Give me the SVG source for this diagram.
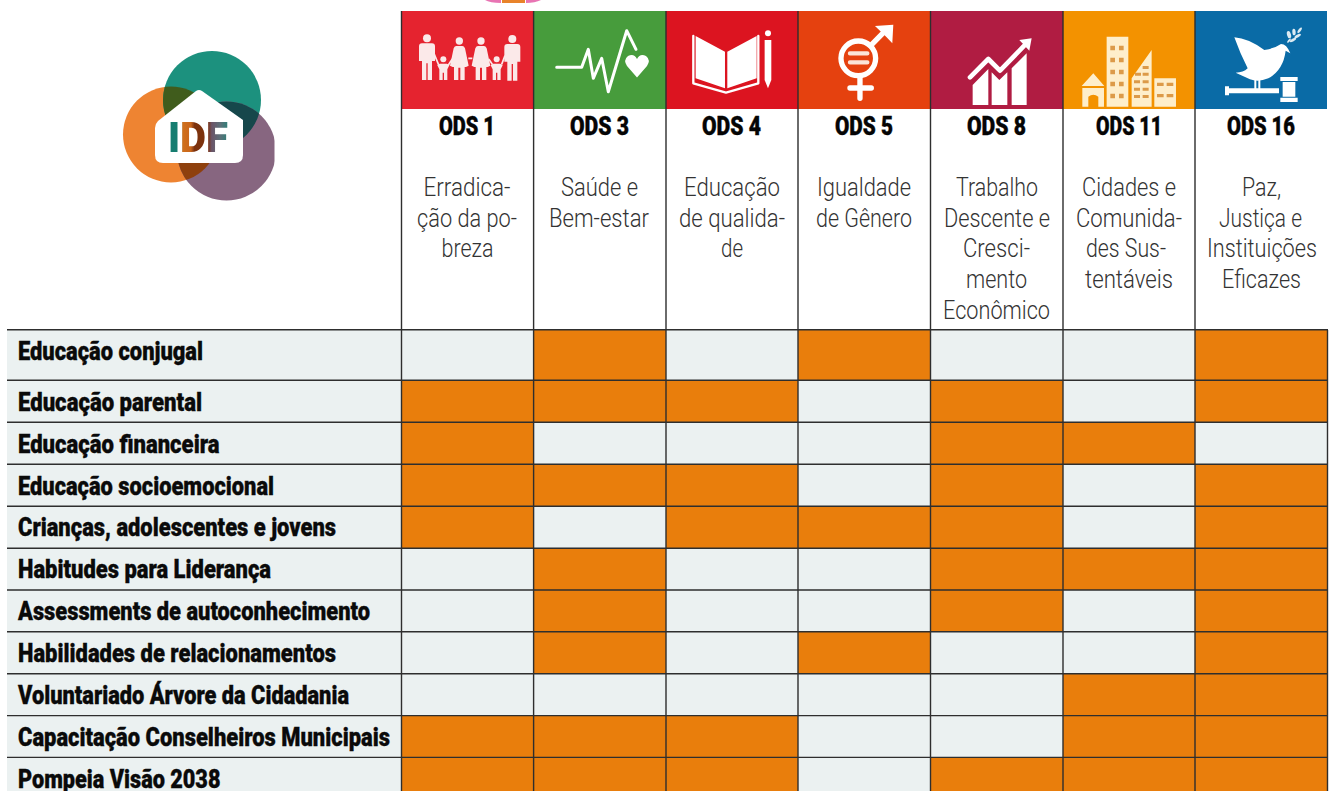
<svg xmlns="http://www.w3.org/2000/svg" width="1331" height="791" viewBox="0 0 1331 791">
<style>
.l{font-family:"Roboto","Liberation Sans",sans-serif;font-weight:900;font-size:25.5px;fill:#0a0a0a;stroke:#0a0a0a;stroke-width:.35}
.h{font-family:"Roboto","Liberation Sans",sans-serif;font-weight:900;font-size:26px;fill:#050505;stroke:#050505;stroke-width:.4}
.t{font-family:"Roboto","Liberation Sans",sans-serif;font-weight:300;font-size:25px;fill:#333}
.o{fill:#e97e0c}
.g{stroke:#2e2e2e;stroke-width:1.4;fill:none}
.w{fill:#fff}
.ws{fill:none;stroke:#fff;stroke-linecap:round;stroke-linejoin:round}
</style>
<defs>
<filter id="soft" x="-5%" y="-5%" width="110%" height="110%"><feGaussianBlur stdDeviation=".45"/></filter>
<filter id="soft2" x="-5%" y="-5%" width="110%" height="110%"><feGaussianBlur stdDeviation=".6"/></filter>
<clipPath id="cO"><circle cx="171" cy="134.5" r="48"/></clipPath>
<clipPath id="cG"><circle cx="212" cy="100" r="49"/></clipPath>
<clipPath id="cP"><path d="M170 95H274.500V205H170Z"/></clipPath>
<linearGradient id="idf" gradientUnits="userSpaceOnUse" x1="170" y1="0" x2="228" y2="0">
<stop offset="0" stop-color="#157d70"/><stop offset=".16" stop-color="#157d70"/><stop offset=".22" stop-color="#d0701f"/><stop offset=".36" stop-color="#c9661c"/><stop offset=".42" stop-color="#7c3210"/><stop offset=".65" stop-color="#7c3210"/><stop offset=".72" stop-color="#6b5468"/><stop offset=".86" stop-color="#5f6f78"/><stop offset="1" stop-color="#2f7f78"/>
</linearGradient>
<g id="man"><circle cx="0" cy="0" r="12"/><path d="M-24 24Q-24 15-15 15H15Q24 15 24 24V68H15V125H2V75H-2V125H-15V68H-24Z"/></g>
<g id="woman"><circle cx="0" cy="0" r="11"/><path d="M-9 15H9Q14 15 17 22L28 74 20 78H16V117H3V80H-3V117H-16V78H-20L-28 74-17 22Q-14 15-9 15Z"/></g>
<g id="kid"><circle cx="0" cy="0" r="9"/><path d="M-10 13H10Q15 13 18 18L12 30V62H2V40H-2V62H-12V30L-18 18Q-15 13-10 13Z"/></g>
</defs>

<rect id="top-fragment" x="502" y="0" width="23" height="3" fill="#e8832a"/>
<path d="M485 0H501V3Q490 3 485 0ZM526 0H541Q535 3 526 3Z" fill="#e0469a" opacity=".75"/>

<g id="logo">
<g filter="url(#soft)">
<circle cx="171" cy="134.500" r="48" fill="#ee8433"/>
<circle cx="212" cy="100" r="49" fill="#1f917e"/>
<g clip-path="url(#cP)"><circle cx="226.500" cy="151" r="49.500" fill="#876680"/></g>
<circle cx="212" cy="100" r="49" fill="#3f5c1e" clip-path="url(#cO)"/>
<g clip-path="url(#cG)"><g clip-path="url(#cP)"><circle cx="226.500" cy="151" r="49.500" fill="#12474c"/></g></g>
<g clip-path="url(#cO)"><circle cx="226.500" cy="151" r="49.500" fill="#8e3f0f"/></g>
<path d="M196 91Q199 89 202 91L243 120V155Q243 163 235 163H163Q155 163 155 155V128Q155 124 158 121Z" fill="#fff"/>
<text x="168" y="152" font-family="Roboto,'Liberation Sans',sans-serif" font-weight="900" font-size="42" textLength="60" lengthAdjust="spacingAndGlyphs" fill="url(#idf)">IDF</text>
</g>
</g>

<g id="icons">
<g id="icon-ods1"><rect x="402" y="11" width="132" height="98" fill="#e5232f"/>
<g fill="#fbe9e9" filter="url(#soft2)" transform="translate(415 25) scale(.3333)">
<use href="#man" x="36" y="40"/><use href="#kid" x="85" y="103"/><use href="#woman" x="133" y="48"/><use href="#woman" x="198" y="48"/><use href="#kid" x="245" y="103"/><use href="#man" x="292" y="42"/>
<path d="M58 88 72 122M100 120 112 102M160 100 172 100M221 102 232 118M260 118 270 92" stroke="#fbe9e9" stroke-width="5" fill="none"/>
</g></g>
<g id="icon-ods3"><rect x="534" y="11" width="132" height="98" fill="#479c3c"/>
<g filter="url(#soft)"><polyline class="ws" stroke="#f0f8ea" stroke-width="3" points="556.700,67.300 581.700,67.300 588.300,49.300 593.300,78.300 601.700,58.300 608.300,91.700 626.700,30.700 636,49.300"/>
<path class="w" d="M637 77.500 627 66Q623 60 628 56 634 53 637 59 640 53 646 56 651 60 647 66Z"/></g></g>
<g id="icon-ods4"><rect x="666" y="11" width="132" height="98" fill="#dc1420"/>
<g transform="translate(530 0) scale(.3333)" filter="url(#soft)"><path class="w" d="M497 108 585 155V265L497 235ZM592 155 680 108V235L592 265Z"/>
<path class="ws" stroke-width="7" d="M490 108V250L588 278 685 250V108"/>
<circle class="w" cx="714" cy="100" r="9"/><path class="w" d="M704 120H724V240L714 265 704 240Z"/></g></g>
<g id="icon-ods5"><rect x="798" y="11" width="132" height="98" fill="#e5410f"/>
<g transform="translate(530 0) scale(.3333)" filter="url(#soft)"><circle cx="985" cy="175" r="52" fill="none" stroke="#fff" stroke-width="16"/>
<path class="ws" stroke-width="13" d="M960 160H1012M960 187H1012" stroke-linecap="butt" style="stroke:#fbe4d8"/>
<path class="ws" stroke-width="16" stroke-linecap="butt" d="M1022 137 1070 88M990 232V295M960 264H1024"/>
<path class="w" d="M1035 78 1090 74 1087 130 1070 112 1053 95Z"/></g></g>
<g id="icon-ods8"><rect x="930" y="11" width="133" height="98" fill="#b01c42"/>
<g transform="translate(920 0) scale(.3333)" filter="url(#soft)"><path class="w" d="M158 255 205 207V315H158ZM215 217 238 240 262 217V315H215ZM275 205 320 160V315H275Z"/>
<path d="M150 232 205 177 240 212 312 138" fill="none" stroke="#b01c42" stroke-width="26"/>
<path class="ws" stroke-width="14" stroke-linecap="butt" d="M150 232 205 177 240 212 312 138"/><path class="w" d="M298 120 335 115 328 152Z"/></g></g>
<g id="icon-ods11"><rect x="1063" y="11" width="132" height="98" fill="#f39200"/>
<g transform="translate(920 0) scale(.3333)" filter="url(#soft)"><g fill="#feeecb"><path d="M485 258 520 220 553 258ZM487 264H552V320H535V290Q520 278 505 290V320H487ZM560 110H625V320H560ZM635 235 695 150V320H635ZM703 235H768V320H703Z"/></g>
<g fill="#dc9a48"><path d="M571 137h14v14h-14zM597 137h14v14h-14zM571 173h14v14h-14zM597 173h14v14h-14zM571 209h14v14h-14zM597 209h14v14h-14zM571 245h14v14h-14zM597 245h14v14h-14zM571 281h14v14h-14zM597 281h14v14h-14zM668 198h18v9h-18zM645 218h18v9h-18zM668 218h18v9h-18zM642 241h18v9h-18zM668 241h18v9h-18zM642 263h18v9h-18zM668 263h18v9h-18zM642 285h18v9h-18zM668 285h18v9h-18zM711 248h20v10h-20zM740 248h20v10h-20zM711 282h20v10h-20zM740 282h20v10h-20z"/></g></g></g>
<g id="icon-ods16"><rect x="1195" y="11" width="132" height="98" fill="#0a6ba6"/>
<g transform="translate(1215 20) scale(.3333)" class="w" filter="url(#soft)"><path d="M58 52Q100 55 148 90 180 85 198 72 215 72 226 100L212 92Q205 150 160 175 130 188 105 178L62 158Q85 158 98 145 75 100 58 52Z"/>
<path d="M118 175h6v32h-6zM130 175h6v32h-6zM40 205H192V220H40ZM30 199h12v27h-12zM196 171h52v12h-52zM203 186h38v44h-38zM196 233h52v13h-52z"/>
<g fill="#dceaf2"><ellipse cx="222" cy="44" rx="6" ry="11" transform="rotate(-15 222 44)"/><ellipse cx="237" cy="36" rx="5" ry="10" transform="rotate(-5 237 36)"/><ellipse cx="254" cy="31" rx="4" ry="10" transform="rotate(35 254 31)"/><ellipse cx="248" cy="48" rx="11" ry="4" transform="rotate(-30 248 48)"/><ellipse cx="234" cy="60" rx="11" ry="4" transform="rotate(-30 234 60)"/><ellipse cx="222" cy="62" rx="8" ry="3" transform="rotate(-50 222 62)"/></g></g></g>
</g>

<g id="grid-fills">
<rect x="7" y="330" width="1320" height="461" fill="#ebf1f1"/>
<g class="o">
<rect x="402" y="380.500" width="132" height="168"/><rect x="402" y="716" width="132" height="75"/>
<rect x="534" y="330" width="132" height="92.500"/><rect x="534" y="464.500" width="132" height="42"/><rect x="534" y="548.500" width="132" height="125.500"/><rect x="534" y="716" width="132" height="75"/>
<rect x="666" y="380.500" width="132" height="42"/><rect x="666" y="464.500" width="132" height="84"/><rect x="666" y="716" width="132" height="75"/>
<rect x="798" y="330" width="132" height="50.500"/><rect x="798" y="506.500" width="132" height="42"/><rect x="798" y="632" width="132" height="42"/>
<rect x="930" y="380.500" width="133" height="251.500"/><rect x="930" y="757.500" width="133" height="33.500"/>
<rect x="1063" y="422.500" width="132" height="42"/><rect x="1063" y="548.500" width="132" height="41.500"/><rect x="1063" y="674" width="132" height="117"/>
<rect x="1195" y="330" width="132" height="92.500"/><rect x="1195" y="464.500" width="132" height="326.500"/>
</g>
</g>

<g id="grid-lines" class="g">
<path d="M401.500 11V791M533.600 11V791M666 11V791M798 11V791M930.500 11V791M1063 11V791M1195 11V791M1327.500 330V791"/>
<path d="M7 329.700H1328M7 380.300H1328M7 422.300H1328M7 464.300H1328M7 506.300H1328M7 548.200H1328M7 590H1328M7 631.800H1328M7 673.800H1328M7 715.600H1328M7 757.400H1328"/>
</g>

<g id="column-headers">
<g id="col-ods1"><text class="h" x="439" y="134.500" textLength="56" lengthAdjust="spacingAndGlyphs">ODS 1</text>
<text class="t" x="423.500" y="195.500" textLength="87" lengthAdjust="spacingAndGlyphs">Erradica-</text><text class="t" x="417" y="226.500" textLength="100" lengthAdjust="spacingAndGlyphs">ção da po-</text><text class="t" x="441.500" y="257.300" textLength="52" lengthAdjust="spacingAndGlyphs">breza</text></g>
<g id="col-ods3"><text class="h" x="570" y="134.500" textLength="59" lengthAdjust="spacingAndGlyphs">ODS 3</text>
<text class="t" x="561" y="195.500" textLength="77" lengthAdjust="spacingAndGlyphs">Saúde e</text><text class="t" x="549" y="226.500" textLength="100" lengthAdjust="spacingAndGlyphs">Bem-estar</text></g>
<g id="col-ods4"><text class="h" x="702" y="134.500" textLength="59" lengthAdjust="spacingAndGlyphs">ODS 4</text>
<text class="t" x="684" y="195.500" textLength="96" lengthAdjust="spacingAndGlyphs">Educação</text><text class="t" x="679" y="226.500" textLength="106" lengthAdjust="spacingAndGlyphs">de qualida-</text><text class="t" x="721" y="257.300" textLength="22" lengthAdjust="spacingAndGlyphs">de</text></g>
<g id="col-ods5"><text class="h" x="835" y="134.500" textLength="58" lengthAdjust="spacingAndGlyphs">ODS 5</text>
<text class="t" x="817" y="195.500" textLength="94" lengthAdjust="spacingAndGlyphs">Igualdade</text><text class="t" x="816" y="226.500" textLength="96" lengthAdjust="spacingAndGlyphs">de Gênero</text></g>
<g id="col-ods8"><text class="h" x="967" y="134.500" textLength="59" lengthAdjust="spacingAndGlyphs">ODS 8</text>
<text class="t" x="956" y="195.500" textLength="82" lengthAdjust="spacingAndGlyphs">Trabalho</text><text class="t" x="944" y="226.500" textLength="106" lengthAdjust="spacingAndGlyphs">Descente e</text><text class="t" x="963" y="257.300" textLength="67" lengthAdjust="spacingAndGlyphs">Cresci-</text><text class="t" x="966" y="288" textLength="61" lengthAdjust="spacingAndGlyphs">mento</text><text class="t" x="943" y="318.500" textLength="107" lengthAdjust="spacingAndGlyphs">Econômico</text></g>
<g id="col-ods11"><text class="h" x="1096" y="134.500" textLength="66" lengthAdjust="spacingAndGlyphs">ODS 11</text>
<text class="t" x="1082" y="195.500" textLength="94" lengthAdjust="spacingAndGlyphs">Cidades e</text><text class="t" x="1076" y="226.500" textLength="106" lengthAdjust="spacingAndGlyphs">Comunida-</text><text class="t" x="1086" y="257.300" textLength="80" lengthAdjust="spacingAndGlyphs">des Sus-</text><text class="t" x="1085" y="288" textLength="88" lengthAdjust="spacingAndGlyphs">tentáveis</text></g>
<g id="col-ods16"><text class="h" x="1227" y="134.500" textLength="68" lengthAdjust="spacingAndGlyphs">ODS 16</text>
<text class="t" x="1242" y="195.500" textLength="39" lengthAdjust="spacingAndGlyphs">Paz,</text><text class="t" x="1219" y="226.500" textLength="83" lengthAdjust="spacingAndGlyphs">Justiça e</text><text class="t" x="1207" y="257.300" textLength="110" lengthAdjust="spacingAndGlyphs">Instituições</text><text class="t" x="1222" y="288" textLength="79" lengthAdjust="spacingAndGlyphs">Eficazes</text></g>
</g>

<g id="row-labels">
<text class="l" x="18" y="360" textLength="185" lengthAdjust="spacingAndGlyphs">Educação conjugal</text>
<text class="l" x="18" y="411" textLength="184" lengthAdjust="spacingAndGlyphs">Educação parental</text>
<text class="l" x="18" y="452.500" textLength="201.500" lengthAdjust="spacingAndGlyphs">Educação financeira</text>
<text class="l" x="18" y="495" textLength="256" lengthAdjust="spacingAndGlyphs">Educação socioemocional</text>
<text class="l" x="18" y="536" textLength="318" lengthAdjust="spacingAndGlyphs">Crianças, adolescentes e jovens</text>
<text class="l" x="18" y="578" textLength="253" lengthAdjust="spacingAndGlyphs">Habitudes para Liderança</text>
<text class="l" x="18" y="620" textLength="352" lengthAdjust="spacingAndGlyphs">Assessments de autoconhecimento</text>
<text class="l" x="18" y="662" textLength="318" lengthAdjust="spacingAndGlyphs">Habilidades de relacionamentos</text>
<text class="l" x="18" y="704" textLength="331" lengthAdjust="spacingAndGlyphs">Voluntariado Árvore da Cidadania</text>
<text class="l" x="18" y="745.700" textLength="372" lengthAdjust="spacingAndGlyphs">Capacitação Conselheiros Municipais</text>
<text class="l" x="18" y="788" textLength="202.500" lengthAdjust="spacingAndGlyphs">Pompeia Visão 2038</text>
</g>
</svg>
